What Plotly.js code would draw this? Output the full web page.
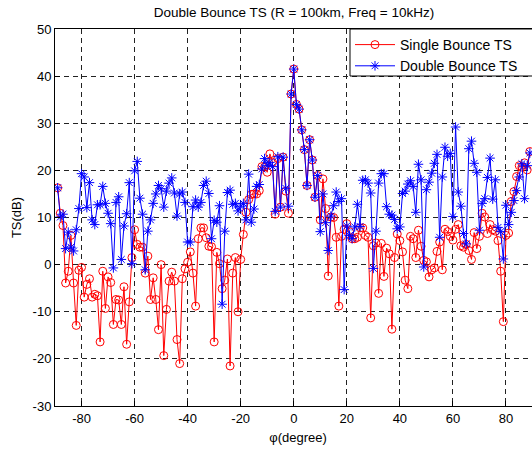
<!DOCTYPE html>
<html>
<head>
<meta charset="utf-8">
<script src="https://cdn.plot.ly/plotly-3.0.1.min.js"></script>
<style>
  html, body { margin: 0; padding: 0; background: #fff; overflow: hidden; width: 532px; height: 451px; }
  #chart { width: 541px; height: 451px; }
</style>
</head>
<body>
<div id="chart"></div>
<script>
// Incidence angle (degrees)
const phi = [
  -89, -88, -87, -86, -85, -84, -83, -82, -81, -80,
  -79, -78, -77, -76, -75, -74, -73, -72, -71, -70,
  -69, -68, -67, -66, -65, -64, -63, -62, -61, -60,
  -59, -58, -57, -56, -55, -54, -53, -52, -51, -50,
  -49, -48, -47, -46, -45, -44, -43, -42, -41, -40,
  -39, -38, -37, -36, -35, -34, -33, -32, -31, -30,
  -29, -28, -27, -26, -25, -24, -23, -22, -21, -20,
  -19, -18, -17, -16, -15, -14, -13, -12, -11, -10,
  -9, -8, -7, -6, -5, -4, -3, -2, -1, 0,
  1, 2, 3, 4, 5, 6, 7, 8, 9, 10,
  11, 12, 13, 14, 15, 16, 17, 18, 19, 20,
  21, 22, 23, 24, 25, 26, 27, 28, 29, 30,
  31, 32, 33, 34, 35, 36, 37, 38, 39, 40,
  41, 42, 43, 44, 45, 46, 47, 48, 49, 50,
  51, 52, 53, 54, 55, 56, 57, 58, 59, 60,
  61, 62, 63, 64, 65, 66, 67, 68, 69, 70,
  71, 72, 73, 74, 75, 76, 77, 78, 79, 80,
  81, 82, 83, 84, 85, 86, 87, 88, 89
];

// Single bounce target strength (dB)
const tsSingle = [
  16.3, 10.9, 8.3, -3.9, -1.4, 6.2, -3.9, -12.9, -1.2, -0.6,
  -6.9, -4.2, -3.0, -6.9, -6.3, -6.6, -16.4, -1.4, -9.3, -2.6,
  -3.8, -12.7, -7.4, -7.5, -12.7, -4.7, -16.9, -7.9, 1.5, 7.4,
  4.3, 3.7, 3.7, -1.8, 1.8, -7.4, -2.8, -7.4, -13.8, 0.0,
  -19.3, -9.5, -3.5, -1.6, -3.5, -15.9, -21.0, -3.0, -0.9, 0.5,
  2.7, -1.8, -8.8, 5.5, 7.8, 7.8, 5.7, 3.9, 3.8, -16.4,
  2.6, 0.2, -5.1, -3.3, 1.2, -21.5, -1.8, 1.5, -10.0, 1.1,
  6.4, 11.1, 13.8, 14.9, 15.0, 15.0, 15.7, 20.8, 20.7, 19.6,
  23.5, 21.7, 10.7, 22.5, 12.2, 22.8, 15.6, 10.9, 36.2, 41.5,
  34.0, 33.0, 28.6, 24.4, 16.8, 26.5, 22.2, 14.3, 18.9, 9.5,
  18.2, 11.9, -2.4, 10.1, 10.0, 5.8, -8.8, 6.0, 7.5, 8.7,
  7.0, 5.5, 5.5, 5.8, 7.8, 7.8, 6.2, 5.8, -11.3, 4.0,
  4.6, -6.1, 4.5, -2.5, 3.5, 2.3, -13.7, 1.5, 6.5, 5.1,
  2.7, -3.3, -5.1, 6.0, 5.5, 1.5, 7.3, 3.9, 0.9, 0.6,
  -2.6, -1.1, -0.7, 2.8, 4.8, -1.1, 7.5, 7.0, 6.0, 5.2,
  7.5, 8.5, 4.0, 3.7, 4.3, 3.0, 1.1, 6.8, 3.4, 6.0,
  10.9, 10.1, 6.6, 8.5, 7.4, 7.1, 5.1, -1.4, -12.1, 6.2,
  6.7, 13.4, 15.5, 18.7, 21.0, 20.7, 21.6, 20.1, 24.0
];

// Double bounce target strength (dB)
const tsDouble = [
  16.3, 10.1, 10.7, 3.4, 6.9, 3.7, 2.9, 7.4, 11.9, 19.3,
  18.6, 12.1, 17.4, 9.5, 8.5, 12.7, 12.7, 16.6, 13.0, 10.9,
  8.7, -0.7, 13.2, 14.4, 1.1, 8.2, 10.8, 17.4, 0.2, 19.9,
  21.9, 14.1, 10.7, -1.1, 7.1, 9.5, 13.0, 15.0, 16.8, 16.1,
  12.2, 15.6, 17.3, 18.4, 15.2, 10.3, 15.0, 15.4, 13.2, 4.8,
  4.8, 12.3, 13.7, 12.2, 13.2, 16.8, 17.7, 15.1, 5.5, 9.4,
  9.0, 12.5, -8.4, 7.1, 15.3, 15.8, 12.8, 13.0, 11.4, 12.4,
  13.0, 9.5, 19.2, 9.0, 11.8, 16.6, 17.0, 20.3, 22.5, 21.0,
  21.7, 20.8, 11.3, 22.9, 12.2, 22.8, 16.2, 12.4, 36.2, 41.5,
  34.0, 33.0, 28.6, 24.4, 16.8, 26.5, 22.2, 14.3, 18.9, 7.0,
  15.0, 8.9, 3.0, 10.3, 12.5, 15.4, 13.4, 14.0, -5.3, 8.2,
  6.2, 5.5, 8.0, 12.8, 8.1, 17.9, 18.0, 17.3, 15.2, -0.8,
  7.1, 17.3, 19.3, 19.3, 12.3, 10.7, 10.5, 9.6, 7.6, 8.0,
  15.1, 15.6, 17.1, 17.8, 16.6, 11.1, 21.3, 18.0, -0.5, 15.9,
  17.5, 19.4, 21.5, 23.4, 5.8, 18.6, 24.9, 23.0, 23.6, 10.2,
  29.2, 15.4, 12.4, 6.6, 4.4, 24.6, 26.2, 21.5, 19.6, 7.3,
  13.0, 14.0, 18.5, 22.6, 13.9, 18.0, 7.9, 7.0, 1.2, 12.6,
  8.5, 11.1, 13.6, 15.7, 18.6, 21.4, 14.0, 21.0, 23.7
];

const xTicks = [-80, -60, -40, -20, 0, 20, 40, 60, 80];
const yTicks = [-30, -20, -10, 0, 10, 20, 30, 40, 50];

const FONT = 'Liberation Sans, Arial, Helvetica, sans-serif';

const traces = [
  {
    x: phi, y: tsSingle, name: 'Single Bounce TS',
    type: 'scatter', mode: 'lines+markers',
    line: { color: '#ff0000', width: 1 },
    marker: { symbol: 'circle-open', size: 8, color: '#ff0000', line: { width: 1, color: '#ff0000' } }
  },
  {
    x: phi, y: tsDouble, name: 'Double Bounce TS',
    type: 'scatter', mode: 'lines+markers',
    line: { color: '#0000ff', width: 1 },
    marker: { symbol: 'asterisk-open', size: 8, color: '#0000ff', line: { width: 1, color: '#0000ff' } }
  }
];

const axisCommon = {
  showline: true, linecolor: '#000', linewidth: 1,
  ticks: 'inside', ticklen: 5, tickcolor: '#000',
  showgrid: true, gridcolor: '#222', gridwidth: 1, griddash: '5px,4px',
  zeroline: false,
  tickfont: { family: FONT, size: 13, color: '#000' }
};

// plain hyphen-minus tick labels
const hyphenLabels = vals => vals.map(v => String(v));

// The figure runs a little past the right edge of the page, so the
// axes box and legend frame continue beyond the visible area.
const FIG_W = 541;
const PLOT_L = 55;
const PLOT_W = FIG_W - PLOT_L;
const PLOT_H = 451 - 29 - 45;
const LEG_X = (350 - PLOT_L) / PLOT_W;
const LEG_H = 47 / PLOT_H;

const layout = {
  width: FIG_W, height: 451,
  margin: { l: PLOT_L, r: 0, t: 29, b: 45 },
  paper_bgcolor: '#fff', plot_bgcolor: '#fff',
  font: { family: FONT, size: 13, color: '#000' },
  title: {
    text: 'Double Bounce TS (R = 100km, Freq = 10kHz)',
    font: { family: FONT, size: 13.5, color: '#000' },
    x: 294 / FIG_W, xanchor: 'center', xref: 'container',
    y: 1 - 12 / 451, yanchor: 'middle', yref: 'container'
  },
  xaxis: Object.assign({}, axisCommon, {
    range: [-90, 93.2], tickvals: xTicks, ticktext: hyphenLabels(xTicks), mirror: true,
    title: { text: 'φ(degree)', font: { family: FONT, size: 13, color: '#000' }, standoff: 8 }
  }),
  yaxis: Object.assign({}, axisCommon, {
    range: [-30, 50], tickvals: yTicks, ticktext: hyphenLabels(yTicks),
    title: { text: 'TS(dB)', font: { family: FONT, size: 13, color: '#000' }, standoff: 8 }
  }),
  // legend frame: a white box with a black outline running past the right edge
  shapes: [{
    type: 'rect', xref: 'paper', yref: 'paper', layer: 'above',
    x0: LEG_X, x1: 1.05, y0: 1 - LEG_H, y1: 1,
    fillcolor: '#fff', line: { color: '#000', width: 1 }
  }],
  showlegend: true,
  legend: {
    x: LEG_X, xanchor: 'left', y: 1, yanchor: 'top',
    bgcolor: 'rgba(0,0,0,0)', borderwidth: 0,
    font: { family: FONT, size: 14, color: '#000' },
    itemwidth: 40,
    tracegroupgap: 0
  }
};

Plotly.newPlot('chart', traces, layout, { displayModeBar: false, staticPlot: true });
</script>
</body>
</html>
